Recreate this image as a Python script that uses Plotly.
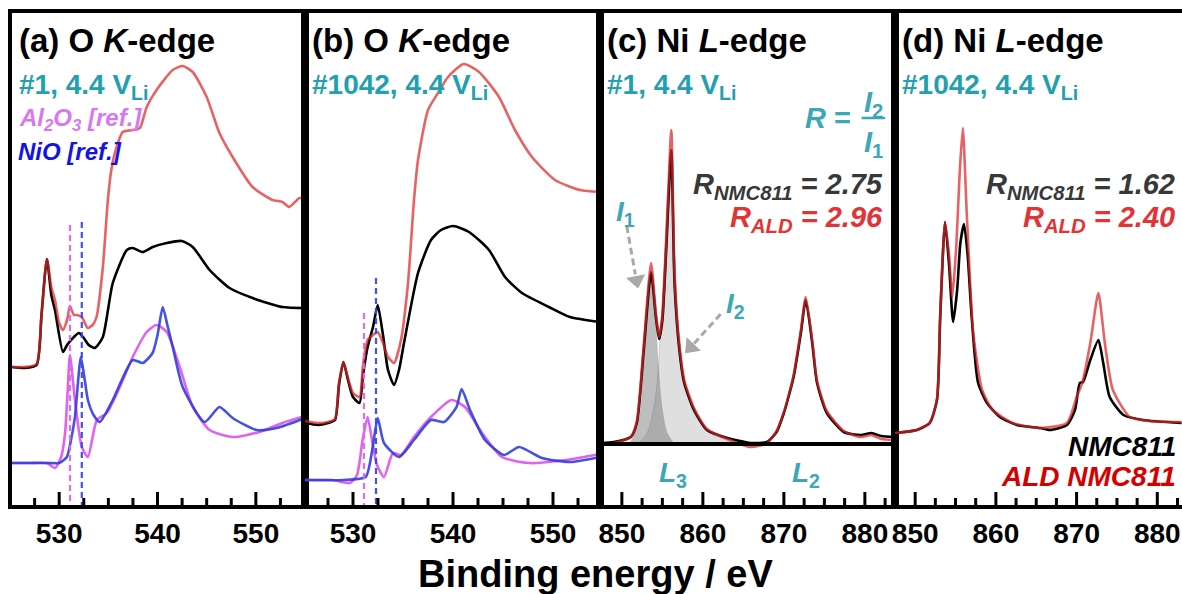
import plotly.graph_objects as go

W, H = 1182, 594

# ---------------- data (intensity in arbitrary units, stacked offsets) ----------------
# (a) O K-edge, #1 at 4.4 V
EA_NMC = [525.2, 526.5, 527.7, 528.2, 528.75, 529.2, 529.57, 530.38, 530.8, 531.5, 532.0, 532.5, 533.0,
          533.63, 534.44, 535.45, 536.88, 537.48, 538.5, 539.5, 540.94, 542.46, 543.58, 545.3, 547.33,
          549.67, 552.7, 555.0]
IA_NMC = [138, 137, 140, 190, 246, 210, 195, 153, 160, 168, 172, 167, 160, 157, 168, 222, 255, 257, 253,
          258, 262, 264, 258, 235, 217, 207, 198, 197]
EA_ALD = [525.2, 526.5, 527.7, 528.2, 528.75, 529.2, 529.57, 530.0, 530.38, 530.8, 531.09, 531.5, 531.8,
          532.3, 532.9, 533.4, 533.8, 534.44, 534.95, 535.3, 535.66, 536.47, 537.5, 538.2, 538.9, 539.9,
          541.55, 542.56, 543.58, 545.0, 546.3, 547.64, 549.67, 551.7, 552.7, 553.4, 554.44, 555.0]
IA_ALD = [138, 138, 141, 190, 246, 218, 205, 182, 175, 185, 199, 190, 190, 188, 177, 180, 188, 238, 305,
          335, 352, 373, 375, 377, 398, 415, 435, 439, 433, 408, 372, 348, 318, 305, 303, 298, 307, 306]
EA_AL2O3 = [525.2, 527.0, 528.75, 529.57, 530.2, 530.6, 530.85, 531.09, 531.6, 532.3, 532.92, 533.83,
            534.85, 536.17, 537.48, 538.9, 539.9, 540.94, 542.26, 543.58, 545.3, 547.64, 550.38, 552.7, 555.0]
IA_AL2O3 = [42, 42, 42, 37, 48, 72, 112, 150, 105, 58, 48, 85, 92, 118, 148, 173, 180, 173, 138, 98, 75,
            68, 73, 82, 89]
EA_NIO = [525.2, 529.0, 530.0, 530.78, 531.2, 531.6, 532.2, 532.6, 532.92, 533.5, 534.13, 535.45, 537.48,
          538.5, 539.5, 540.0, 540.53, 541.0, 541.55, 542.56, 544.79, 546.3, 547.64, 550.07, 552.1, 555.0]
IA_NIO = [42, 42, 42, 48, 65, 88, 148, 125, 105, 90, 83, 105, 145, 142, 152, 170, 198, 180, 158, 118, 83,
          98, 87, 75, 77, 87]

# (b) O K-edge, #1042 at 4.4 V
EB_NMC = [525.2, 526.5, 527.5, 528.2, 528.6, 529.04, 529.5, 530.0, 530.65, 531.0, 531.46, 532.0, 532.47,
          533.0, 533.5, 534.1, 534.6, 535.1, 536.5, 537.8, 538.8, 540.0, 541.6, 543.6, 545.2, 546.9, 549.6,
          551.7, 554.7]
IB_NMC = [82, 80, 82, 85, 120, 143, 125, 108, 102, 130, 158, 178, 200, 170, 135, 120, 135, 162, 232, 265,
          275, 279, 273, 255, 228, 212, 198, 188, 183]
EB_ALD = [525.2, 526.5, 527.5, 528.2, 528.6, 529.04, 529.5, 530.0, 530.65, 531.0, 531.46, 532.0, 532.47,
          533.0, 533.5, 534.1, 534.8, 535.5, 536.1, 536.5, 537.5, 538.5, 539.5, 541.06, 542.6, 544.6, 546.2,
          547.9, 550.2, 552.7, 554.7]
IB_ALD = [84, 82, 83, 86, 122, 143, 127, 112, 108, 140, 165, 170, 173, 162, 148, 142, 165, 222, 305, 345,
          395, 412, 428, 441, 433, 408, 375, 348, 325, 315, 313]
EB_AL2O3 = [525.2, 528.0, 529.7, 530.4, 530.96, 531.46, 531.9, 532.4, 533.1, 534.0, 534.8, 536.1, 537.8,
            539.85, 541.2, 542.9, 544.9, 547.6, 551.3, 554.7]
IB_AL2O3 = [25, 25, 22, 30, 65, 88, 65, 40, 28, 52, 50, 68, 88, 105, 98, 72, 48, 42, 45, 51]
EB_NIO = [525.2, 529.0, 531.26, 531.97, 532.47, 533.1, 534.6, 536.1, 537.8, 539.1, 540.35, 540.86, 541.7,
          543.2, 545.1, 546.6, 548.9, 551.7, 554.7]
IB_NIO = [25, 25, 28, 58, 87, 62, 48, 65, 85, 83, 98, 116, 95, 65, 50, 58, 47, 43, 48]

# reference edge positions (Al2O3, NiO) and the heights of their marker lines
REF_EDGES = [531.1, 532.3]
REF_TOP_A = [280, 283]
REF_TOP_B = [192, 227]

# (c) Ni L-edge, #1 at 4.4 V
EC = [847.3, 849.0, 851.1, 851.85, 852.7, 853.6, 854.2, 854.6, 855.0, 855.5, 856.1, 856.5, 857.1, 857.7,
      858.9, 860.5, 863.0, 865.9, 867.9, 869.1, 870.0, 870.4, 871.2, 872.1, 872.7, 873.5, 874.1, 875.3,
      877.4, 879.5, 880.8, 882.0, 883.7]
IC_NMC = [62, 63, 68, 82, 155, 233, 188, 166, 185, 260, 355, 222, 155, 122, 95, 75, 67, 62, 63, 73, 92,
          103, 128, 172, 205, 162, 122, 92, 73, 70, 72, 69, 68]
IC_ALD = [60, 62, 68, 84, 160, 242, 192, 168, 190, 268, 375, 230, 160, 125, 97, 76, 66, 58, 62, 74, 93,
          104, 130, 175, 208, 165, 124, 94, 74, 68, 70, 66, 65]
# fitted L3 components (I1, I2) and the spectrum baseline
EC_I1 = [851.0, 852.0, 852.8, 853.2, 853.6, 854.0, 854.5, 855.0, 855.6, 856.3]
IC_I1 = [62, 80, 150, 205, 230, 205, 140, 95, 72, 63]
EC_I2 = [852.0, 853.0, 854.0, 854.6, 855.2, 855.7, 856.1, 856.6, 857.2, 858.0, 859.0, 860.5, 862.5, 864.0]
IC_I2 = [62, 70, 100, 150, 240, 320, 345, 240, 160, 115, 90, 75, 66, 62]
BASELINE_C = 61
# dashed pointers to I1 and I2: (tail energy, tail level) -> (tip energy, tip level)
POINTERS = [((850.6, 279), (851.9, 220)), ((862.2, 191), (858.2, 155))]

# (d) Ni L-edge, #1042 at 4.4 V
ED_NMC = [847.5, 850.2, 851.8, 852.7, 853.1, 853.7, 854.2, 854.7, 855.2, 855.6, 856.05, 856.5, 857.0,
          857.8, 858.9, 860.5, 862.6, 865.5, 866.7, 868.8, 869.8, 870.4, 870.8, 871.7, 872.7, 873.3, 874.1,
          875.8, 878.2, 883.0]
ID_NMC = [72, 75, 82, 105, 188, 283, 240, 183, 215, 262, 281, 250, 188, 122, 102, 88, 80, 77, 75, 80, 95,
          122, 123, 145, 165, 142, 108, 90, 85, 82]
ED_ALD = [847.5, 850.2, 851.8, 852.7, 853.1, 853.7, 854.2, 854.6, 855.1, 855.5, 855.9, 856.4, 857.2,
          858.3, 859.6, 862.1, 865.5, 868.8, 870.0, 870.7, 871.7, 872.7, 873.5, 874.5, 876.6, 879.0, 883.0]
ID_ALD = [72, 75, 82, 106, 190, 283, 250, 208, 260, 330, 377, 290, 172, 115, 95, 82, 77, 82, 108, 122,
          162, 212, 162, 115, 88, 84, 83]

R_VALUES_C = {"NMC811": 2.75, "ALD": 2.96}
R_VALUES_D = {"NMC811": 1.62, "ALD": 2.40}

# tick positions (eV)
MAJOR_O = [530, 540, 550]
MINOR_O = [527.5, 532.5, 535, 537.5, 542.5, 545, 547.5, 552.5]
MAJOR_NI = [850, 860, 870, 880]
MINOR_NI = [852.5, 855, 857.5, 862.5, 865, 867.5, 872.5, 875, 877.5, 882.5]

# ---------------- styling ----------------
SANS = "Liberation Sans, Arial, sans-serif"
BLACK = "#000000"
RED = "rgba(222,38,38,0.72)"
MAGENTA = "rgba(222,80,240,0.9)"
BLUE = "rgba(48,62,222,0.9)"
TEAL = "#22a0b0"
TEAL2 = "#3ea7b7"
GREY = "#a8a8a8"
LW = 2.6

fig = go.Figure()


def px(x):
    return x / W


def py(y):
    return 1 - y / H


def line(xs, ys, color, ax, width=LW, dash=None, shape="spline"):
    fig.add_trace(go.Scatter(x=xs, y=ys, mode="lines", xaxis="x" + ax, yaxis="y" + ax,
                             line=dict(color=color, width=width, dash=dash, shape=shape,
                                       smoothing=0.6),
                             showlegend=False))


def tick_marks(vals, ax, length):
    # inward ticks standing on the bottom axis, one segment per tick value
    xs, ys = [], []
    for v in vals:
        xs += [v, v, None]
        ys += [0, length, None]
    line(xs, ys, BLACK, ax, width=3, shape="linear")


# panel (a)
line(EA_NMC, IA_NMC, BLACK, "")
line(EA_ALD, IA_ALD, RED, "")
line(EA_AL2O3, IA_AL2O3, MAGENTA, "")
line(EA_NIO, IA_NIO, BLUE, "")
# panel (b)
line(EB_NMC, IB_NMC, BLACK, "2")
line(EB_ALD, IB_ALD, RED, "2")
line(EB_AL2O3, IB_AL2O3, MAGENTA, "2")
line(EB_NIO, IB_NIO, BLUE, "2")
# reference edge markers
for ax, tops in (("", REF_TOP_A), ("2", REF_TOP_B)):
    for e, top, col in zip(REF_EDGES, tops, ["rgba(222,100,240,0.95)", "rgba(60,70,235,0.95)"]):
        line([e, e], [top, 0], col, ax, width=2.2, dash="6px,4px", shape="linear")

# panel (c): fitted components shaded to the baseline
for es, vs, col in ((EC_I2, IC_I2, "rgba(175,175,175,0.4)"), (EC_I1, IC_I1, "rgba(110,110,110,0.45)")):
    fig.add_trace(go.Scatter(x=es, y=[BASELINE_C] * len(es), mode="lines", xaxis="x3", yaxis="y3",
                             line=dict(width=0), showlegend=False))
    fig.add_trace(go.Scatter(x=es, y=vs, mode="lines", xaxis="x3", yaxis="y3", fill="tonexty",
                             fillcolor=col, line=dict(width=0.8, color="rgba(150,150,150,0.5)",
                                                      shape="spline"),
                             showlegend=False))
line(EC, IC_NMC, BLACK, "3")
line(EC, IC_ALD, RED, "3")
# baseline below the L3/L2 labels
line([847.3, 883.72], [BASELINE_C, BASELINE_C], BLACK, "3", width=4, shape="linear")
# pointers: dashed shaft + triangular head
for (e0, v0), (e1, v1), ang in zip([p[0] for p in POINTERS], [p[1] for p in POINTERS], [-11, 43]):
    line([e0, e0 + 0.82 * (e1 - e0)], [v0, v0 + 0.82 * (v1 - v0)], GREY, "3", width=3,
         dash="7px,4px", shape="linear")
    fig.add_trace(go.Scatter(x=[e1 - 0.08 * (e1 - e0)], y=[v1 - 0.08 * (v1 - v0)], mode="markers",
                             xaxis="x3", yaxis="y3", showlegend=False,
                             marker=dict(symbol="triangle-down", size=17, color=GREY, angle=ang)))
# fraction bar of R = I2 / I1
line([879.6, 882.5], [387, 387], TEAL2, "3", width=2.5, shape="linear")

# panel (d)
line(ED_NMC, ID_NMC, BLACK, "4")
line(ED_ALD, ID_ALD, RED, "4")

# bottom-axis ticks
for ax, major, minor in (("", MAJOR_O, MINOR_O), ("2", MAJOR_O, MINOR_O),
                         ("3", MAJOR_NI, MINOR_NI), ("4", MAJOR_NI, MINOR_NI)):
    tick_marks(major, ax, 13)
    tick_marks(minor, ax, 7)

# ---------------- axes ----------------
PANELS = [  # (left px, right px, x range)
    (12, 305, [525.2, 555.0]),
    (305, 600, [525.2, 554.7]),
    (600, 895, [847.3, 883.72]),
    (895, 1182, [847.5, 883.06]),
]
Y_DOM = [py(505), py(13)]
for i, (l, r, rng) in enumerate(PANELS):
    sfx = "" if i == 0 else str(i + 1)
    fig.update_layout(**{
        "xaxis" + sfx: dict(domain=[px(l), px(r)], range=rng, anchor="y" + sfx, showline=True,
                            linewidth=4, linecolor="black", mirror=True, ticks="", dtick=10,
                            automargin=False, ticklabeloverflow="allow",
                            tickfont=dict(family=SANS, size=28, color="black", weight="bold"),
                            showgrid=False, zeroline=False),
        "yaxis" + sfx: dict(domain=Y_DOM, range=[0, 492], anchor="x" + sfx, showline=True,
                            linewidth=4, linecolor="black", mirror=(i < 3), automargin=False,
                            ticks="", showticklabels=False, showgrid=False, zeroline=False),
    })


# ---------------- text ----------------
def note(text, x, y, size, color, xanchor="left", family=SANS, yanchor="middle"):
    fig.add_annotation(text=text, x=px(x), y=py(y), xref="paper", yref="paper", xanchor=xanchor,
                       yanchor=yanchor, showarrow=False,
                       font=dict(family=family, size=size, color=color))


TITLES = ["(a) O <i>K</i>-edge", "(b) O <i>K</i>-edge", "(c) Ni <i>L</i>-edge", "(d) Ni <i>L</i>-edge"]
SAMPLES = ["#1, 4.4 V<sub>Li</sub>", "#1042, 4.4 V<sub>Li</sub>", "#1, 4.4 V<sub>Li</sub>",
           "#1042, 4.4 V<sub>Li</sub>"]
for (l, r, rng), t, s in zip(PANELS, TITLES, SAMPLES):
    note("<b>" + t + "</b>", l + 5, 40, 33, "black")
    note("<b>" + s + "</b>", l + 5, 86, 28, TEAL)

note("<b><i>Al<sub>2</sub>O<sub>3</sub> [ref.]</i></b>", 17, 120, 24, "#d878f0")
note("<b><i>NiO [ref.]</i></b>", 16, 151, 24, "#1414e0")

# R = I2 / I1
note("<b><i>R</i> =</b>", 853, 118, 29, TEAL2, xanchor="right")
note("<b><i>I</i><sub>2</sub></b>", 873, 104, 29, TEAL2, xanchor="center")
note("<b><i>I</i><sub>1</sub></b>", 873, 144, 29, TEAL2, xanchor="center")

for rv, xr in ((R_VALUES_C, 885), (R_VALUES_D, 1177)):
    note("<b><i>R<sub>NMC811</sub> = %.2f</i></b>" % rv["NMC811"], xr, 186, 29, "#383838", xanchor="right")
    note("<b><i>R<sub>ALD</sub> = %.2f</i></b>" % rv["ALD"], xr, 219, 29, "#e23434", xanchor="right")

note("<b><i>I</i><sub>1</sub></b>", 614, 213, 28, TEAL2)
note("<b><i>I</i><sub>2</sub></b>", 724, 305, 28, TEAL2)
note("<b><i>L</i><sub>3</sub></b>", 657, 474, 28, TEAL2)
note("<b><i>L</i><sub>2</sub></b>", 790, 474, 28, TEAL2)

note("<b><i>NMC811</i></b>", 1178, 446, 28, "black", xanchor="right")
note("<b><i>ALD NMC811</i></b>", 1178, 476, 28, "#d40000", xanchor="right")

note("<b>Binding energy / eV</b>", 595, 574, 38, "black", xanchor="center")

fig.update_layout(width=W, height=H, margin=dict(l=0, r=0, t=0, b=0), plot_bgcolor="white",
                  paper_bgcolor="white", showlegend=False)

fig.write_html("out.html")
